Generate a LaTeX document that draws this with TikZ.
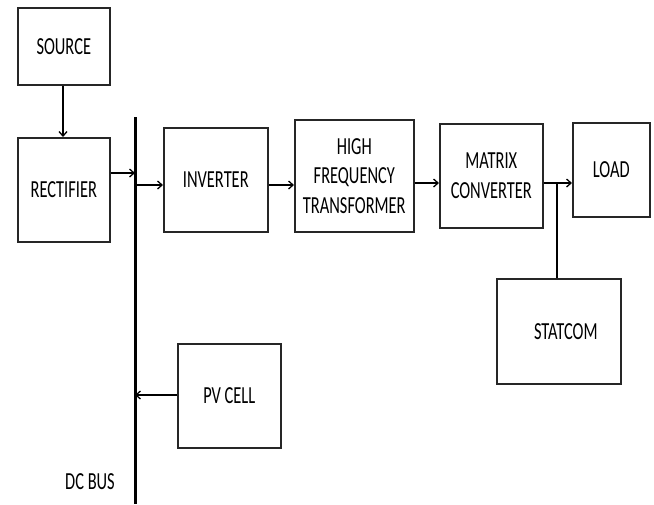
\documentclass[tikz,border=0pt]{standalone}
\usepackage{fontspec}
\setmainfont[FakeStretch=0.67]{Carlito}
\usetikzlibrary{arrows.meta}
\begin{document}
\begin{tikzpicture}[x=1pt,y=-1pt,
  box/.style={draw=black!85,line width=1.6pt,rectangle,inner sep=0pt,anchor=north west,align=center,
    font=\fontsize{24.5}{29.5}\selectfont},
  lbl/.style={font=\fontsize{24.5}{29.5}\selectfont,inner sep=0pt},
  arr/.style={line width=1.6pt,-{Straight Barb[length=4.5pt,width=8pt,line width=1.3pt]}},
  conn/.style={line width=1.6pt}]
\useasboundingbox (0,0) rectangle (654,504);
\node[box,minimum width=92pt,minimum height=77pt] (src) at (17,7) {SOURCE};
\node[box,minimum width=92pt,minimum height=104pt] (rect) at (17,137) {RECTIFIER};
\node[box,minimum width=104pt,minimum height=104pt] (inv) at (163,127) {INVERTER};
\node[box,minimum width=119pt,minimum height=112pt] (hft) at (294,119) {HIGH\\FREQUENCY\\TRANSFORMER};
\node[box,minimum width=103pt,minimum height=104pt] (mc) at (439,123) {MATRIX\\CONVERTER};
\node[box,minimum width=77pt,minimum height=94pt] (load) at (572,122) {LOAD};
\node[box,minimum width=124pt,minimum height=105pt] (stat) at (496,278) {};
\node[lbl] (stattxt) at ([xshift=7pt]stat.center) {STATCOM};
\node[box,minimum width=103pt,minimum height=104pt] (pv) at (177,343) {PV CELL};
\node[lbl] (dcbus) at (90,482) {DC BUS};
\coordinate (bustop) at (135,117);
\coordinate (busbot) at (135,504);
\coordinate (junc) at (557,183);
\draw[line width=3pt] (bustop) -- (busbot);
\draw[arr] (src.south -| 63,0) -- (rect.north -| 63,0);
\draw[arr] (rect.east |- 0,173) -- (bustop |- 0,173);
\draw[arr] (bustop |- 0,185) -- (inv.west |- 0,185);
\draw[arr] (inv.east |- 0,185) -- (hft.west |- 0,185);
\draw[arr] (hft.east |- 0,183) -- (mc.west |- 0,183);
\draw[arr] (mc.east |- 0,183) -- (load.west |- 0,183);
\draw[conn] (stat.north -| junc) -- (junc);
\draw[arr] (pv.west |- 0,395) -- (bustop |- 0,395);
\end{tikzpicture}
\end{document}
